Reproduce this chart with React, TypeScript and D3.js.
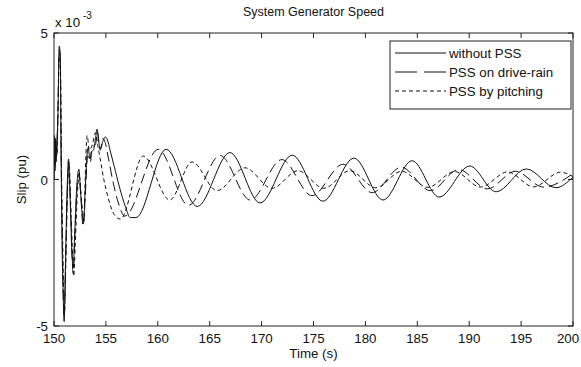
import React from "react";
import * as d3 from "d3";

// Slip values are in units of 1e-3 pu (axis shows "x 10^-3")
const tWithout = [150.0,150.05,150.1,150.15,150.2,150.27,150.38,150.5,150.6,150.68,150.75,150.87,150.98,151.1,151.25,151.4,151.55,151.72,151.85,152.0,152.2,152.4,152.55,152.75,152.85,153.0,153.2,153.3,153.45,153.6,153.8,154.0,154.15,154.3,154.5,154.7,154.95,155.15,155.4,155.8,156.3,156.9,157.35,157.9,160.8,163.8,166.95,169.85,172.95,175.9,178.9,181.7,184.5,187.1,190.05,192.6,195.5,198.35,200.0];
const vWithout = [0,1.5,0.4,1.4,0.6,1.2,2.2,4.55,4.3,1.0,-1.5,-3.8,-4.85,-3.0,-0.5,0.7,-0.6,-2.5,-3.0,-1.8,-0.2,0.35,-0.4,-1.3,-1.45,-0.4,0.9,1.1,0.7,0.95,1.0,1.4,1.72,1.3,1.05,1.3,1.45,1.35,1.0,0.45,-0.25,-0.95,-1.3,-1.3,1.03,-0.92,0.92,-0.8,0.83,-0.74,0.73,-0.7,0.64,-0.6,0.46,-0.42,0.36,-0.28,0.08];

const tDrive = [150.0,150.05,150.1,150.17,150.25,150.38,150.5,150.6,150.7,150.8,150.98,151.1,151.3,151.42,151.6,151.85,152.0,152.2,152.4,152.6,152.8,153.0,153.25,153.5,153.7,154.0,154.2,154.45,154.7,154.9,155.2,155.7,156.2,156.8,160.05,162.95,166.0,168.9,171.95,174.85,177.85,180.65,183.45,186.25,189.0,191.75,194.45,197.15,200.0];
const vDrive = [0,1.3,0.3,1.2,0.8,2.4,4.4,4.1,0.6,-2.0,-4.7,-3.2,-0.3,0.6,-1.0,-3.2,-2.0,-0.4,0.2,-0.6,-1.6,-0.6,0.8,0.6,1.1,1.2,1.6,1.0,1.4,1.3,0.8,-0.1,-0.8,-1.25,1.03,-0.88,0.82,-0.7,0.68,-0.55,0.52,-0.45,0.42,-0.38,0.34,-0.32,0.28,-0.26,0.2];

const tPitch = [150.0,150.05,150.12,150.2,150.3,150.4,150.52,150.62,150.72,150.85,151.0,151.12,151.3,151.45,151.65,151.9,152.05,152.25,152.45,152.65,152.9,153.05,153.2,153.4,153.7,154.0,154.2,154.5,154.8,155.2,155.8,156.4,158.6,161.15,163.3,165.7,168.4,171.0,173.5,176.0,178.5,181.0,183.5,186.0,188.6,191.1,193.7,196.2,198.8,200.0];
const vPitch = [0,1.2,0.5,1.3,0.9,2.6,4.3,3.9,0.4,-2.4,-4.6,-3.1,-0.4,0.5,-1.2,-3.3,-2.2,-0.5,0.1,-0.7,-1.4,0.6,1.5,1.0,1.2,1.6,1.2,0.6,0.0,-0.6,-1.2,-1.35,0.8,-0.7,0.6,-0.38,0.4,-0.3,0.3,-0.3,0.3,-0.28,0.28,-0.27,0.27,-0.26,0.26,-0.25,0.25,0.1];

const xTicks = [150,155,160,165,170,175,180,185,190,195,200];
const yTicks = [-5,0,5];
const seriesNames = ["without PSS","PSS on drive-rain","PSS by pitching"];

const W = 581, H = 367;
const L = 54, R = 573, T = 33, B = 326;
const FONT = "'Liberation Sans', Arial, sans-serif";

export default function App() {
  const x = d3.scaleLinear().domain([150,200]).range([L,R]);
  const y = d3.scaleLinear().domain([-5,5]).range([B,T]);
  const mk = (ts: number[], vs: number[]) =>
    d3.line<number>().x((_, i) => x(ts[i])).y((v) => y(v)).curve(d3.curveMonotoneX)(vs) || "";
  const series = [
    { d: mk(tWithout, vWithout), dash: undefined as string | undefined, ldash: undefined as string | undefined },
    { d: mk(tDrive, vDrive), dash: "10,5", ldash: "22,7" },
    { d: mk(tPitch, vPitch), dash: "4,3", ldash: "4,3" },
  ];
  const legX = 390, legY = 41, legW = 181, legH = 68;
  return (
    <svg width={W} height={H} style={{ position: "absolute", left: 0, top: 0, background: "#fff" }} fontFamily={FONT}>
      <rect x={0} y={0} width={W} height={H} fill="#fff" />
      <defs>
        <clipPath id="plotclip"><rect x={L} y={T} width={R - L} height={B - T} /></clipPath>
      </defs>
      <g clipPath="url(#plotclip)" fill="none" stroke="#111" strokeWidth={1}>
        {series.map((s, i) => (
          <path key={i} d={s.d} strokeDasharray={s.dash} />
        ))}
      </g>
      <rect x={L} y={T} width={R - L} height={B - T} fill="none" stroke="#222" strokeWidth={1} />
      {xTicks.map((t) => (
        <g key={"x" + t}>
          <line x1={x(t)} x2={x(t)} y1={B} y2={B - 5} stroke="#222" />
          <line x1={x(t)} x2={x(t)} y1={T} y2={T + 5} stroke="#222" />
          <text x={Math.min(x(t), 568)} y={343} fontSize={13.3} textAnchor="middle" fill="#111">{t}</text>
        </g>
      ))}
      {yTicks.map((v) => (
        <g key={"y" + v}>
          <line x1={L} x2={L + 5} y1={y(v)} y2={y(v)} stroke="#222" />
          <line x1={R} x2={R - 5} y1={y(v)} y2={y(v)} stroke="#222" />
          <text x={L - 6} y={y(v) + 5} fontSize={13.3} textAnchor="end" fill="#111">{v}</text>
        </g>
      ))}
      <text x={55} y={27} fontSize={13.3} fill="#111">x 10</text>
      <text x={83} y={19} fontSize={10} fill="#111" textAnchor="start">-3</text>
      <text x={(L + R) / 2} y={16} fontSize={12.5} textAnchor="middle" fill="#111">System Generator Speed</text>
      <text x={(L + R) / 2} y={358} fontSize={13.3} textAnchor="middle" fill="#111">Time (s)</text>
      <text transform={`translate(26,${(T + B) / 2}) rotate(-90)`} fontSize={13.3} textAnchor="middle" fill="#111">Slip (pu)</text>
      <rect x={legX} y={legY} width={legW} height={legH} fill="#fff" stroke="#222" strokeWidth={1} />
      {seriesNames.map((n, i) => (
        <g key={n}>
          <line x1={395} x2={446} y1={53 + i * 19} y2={53 + i * 19} stroke="#111" strokeDasharray={series[i].ldash} />
          <text x={449} y={58 + i * 19} fontSize={13.3} fill="#111">{n}</text>
        </g>
      ))}
    </svg>
  );
}
